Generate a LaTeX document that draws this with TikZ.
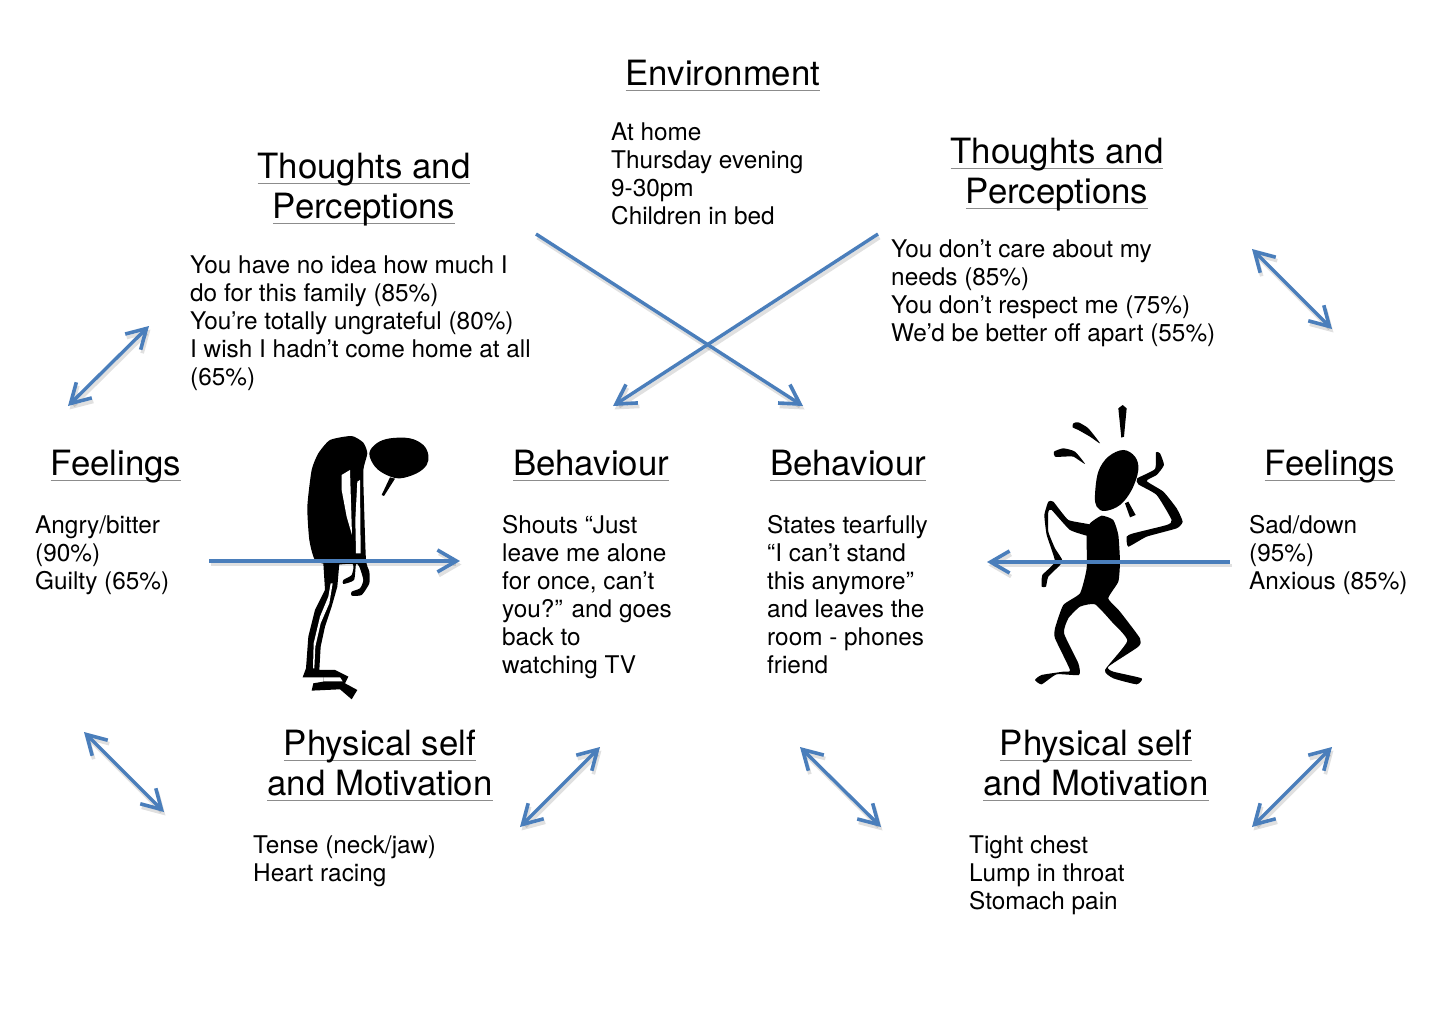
\documentclass[tikz,border=0pt]{standalone}
\usepackage{fontspec}
\setmainfont{TeX Gyre Heros}
\usetikzlibrary{arrows.meta}
\definecolor{arrowblue}{HTML}{4A7EBB}
\definecolor{headrule}{HTML}{8C8C8C}
\newcommand\hdline[1]{\setbox0\hbox{#1}\rlap{\color{headrule}\rule[-5.5pt]{\wd0}{1.3pt}}\box0}
\tikzset{
  bodytext/.style={anchor=north west,inner sep=0pt,align=left,font=\fontsize{24.35}{27.85}\selectfont},
  headtext/.style={anchor=north,inner sep=0pt,align=center,font=\fontsize{34.8}{40}\selectfont},
  barb/.tip={Straight Barb[length=19pt,width=22pt,line width=3.6pt]},
  link/.style={draw=arrowblue,line width=3.4pt},
  both/.style={link,barb-barb},
  fwd/.style={link,-barb},
  shade/.style={draw=black,opacity=.12,line width=3.8pt,transform canvas={xshift=1.5pt,yshift=-3.5pt}},
  ink/.style={fill=black,draw=none}
}
\begin{document}
\begin{tikzpicture}[x=1pt,y=-1pt]
\useasboundingbox (0,0) rectangle (1456,1030);
\fill[white] (0,0) rectangle (1456,1030);

% stooped figure
\begin{scope}[shift={(280,420)},x=.3333pt,y=-.3333pt]
\fill[ink] plot[smooth cycle,tension=.35] coordinates {(150,60)(215,48)(250,68)(262,100)(250,150)(252,250)(258,420)(268,455)(268,490)(245,525)(215,527)(215,515)(240,505)(250,480)(238,440)(228,432)(222,480)(190,492)(190,480)(215,465)(218,432)(150,435)(105,420)(88,360)(82,260)(95,150)(115,100)};
\fill[white] (185,165)--(210,150)--(216,345)--(200,290)--(185,210)--cycle;
\fill[white] (232,185)--(240,180)--(242,400)--(228,400)--(226,300)--cycle;
\fill[ink] (130,430)--(178,430)--(172,500)--(155,560)--(135,620)--(122,680)--(118,750)--(165,750)--(205,770)--(195,790)--(232,810)--(215,838)--(180,808)--(95,812)--(100,790)--(130,785)--(130,772)--(68,772)--(78,745)--(85,650)--(105,570)--(135,510)--cycle;
\fill[white] (152,490)--(158,490)--(148,550)--(122,610)--(106,680)--(103,745)--(99,745)--(101,670)--(120,590)--(145,530)--cycle;
\fill[white] (130,772)--(180,772)--(188,784)--(130,784)--cycle;
\fill[ink] plot[smooth cycle,tension=.6] coordinates {(268,100)(290,70)(330,55)(390,55)(430,75)(445,105)(440,135)(410,160)(360,175)(320,165)(285,140)};
\fill[ink] (330,172)--(345,176)--(312,228)--(305,225)--cycle;
\end{scope}

% agitated figure
\begin{scope}[shift={(980,395)},x=.3333pt,y=-.3333pt]
\fill[ink] (415,40)--(428,30)--(440,40)--(432,125)--(424,128)--cycle;
\fill[ink] plot[smooth cycle,tension=.35] coordinates {(280,85)(295,82)(325,100)(360,145)(330,125)(295,105)(278,97)};
\fill[ink] plot[smooth cycle,tension=.35] coordinates {(222,170)(250,160)(285,170)(315,207)(280,185)(250,185)(225,185)};
\fill[ink] plot[smooth cycle,tension=.6] coordinates {(345,300)(355,230)(385,185)(430,165)(465,185)(475,225)(455,285)(420,330)(375,348)(350,335)};
\fill[ink] (435,325)--(445,320)--(467,360)--(450,367)--cycle;
\fill[ink] plot[smooth cycle,tension=.3] coordinates {(440,425)(460,415)(560,390)(575,375)(530,300)(475,268)(472,250)(525,222)(528,172)(540,175)(552,210)(530,240)(500,258)(550,290)(590,340)(608,380)(590,400)(500,425)(445,455)};
\fill[ink] plot[smooth cycle,tension=.3] coordinates {(330,385)(365,362)(400,375)(415,420)(420,500)(415,560)(385,610)(420,650)(480,730)(475,755)(385,815)(400,830)(485,850)(470,868)(400,850)(375,825)(442,738)(395,680)(345,628)(300,635)(265,670)(252,715)(295,805)(297,840)(230,838)(185,868)(165,855)(185,840)(250,830)(270,825)(225,730)(225,700)(250,630)(300,595)(320,520)(320,420)};
\fill[ink] plot[smooth cycle,tension=.25] coordinates {(335,390)(335,425)(270,405)(215,345)(205,350)(205,410)(225,460)(248,500)(205,545)(198,575)(185,575)(187,540)(225,500)(200,420)(193,360)(205,320)(220,320)(265,375)};
\end{scope}

% headings
\node[headtext] (envh) at (723,60) {\hdline{Environment}};
\node[headtext] (tlh) at (364,153) {\hdline{Thoughts and}\\\hdline{Perceptions}};
\node[headtext] (trh) at (1057,138) {\hdline{Thoughts and}\\\hdline{Perceptions}};
\node[headtext] (flh) at (116,450) {\hdline{Feelings}};
\node[headtext] (blh) at (591,450) {\hdline{Behaviour}};
\node[headtext] (brh) at (848,450) {\hdline{Behaviour}};
\node[headtext] (frh) at (1330,450) {\hdline{Feelings}};
\node[headtext] (plh) at (380,730) {\hdline{Physical self}\\\hdline{and Motivation}};
\node[headtext] (prh) at (1096,730) {\hdline{Physical self}\\\hdline{and Motivation}};

% body text
\node[bodytext] (envt) at (611,122.7) {At home\\Thursday evening\\9-30pm\\Children in bed};
\node[bodytext] (tlt) at (190,255.7) {You have no idea how much I\\do for this family (85\%)\\You’re totally ungrateful (80\%)\\I wish I hadn’t come home at all\\(65\%)};
\node[bodytext] (trt) at (891,239.7) {You don’t care about my\\needs (85\%)\\You don’t respect me (75\%)\\We’d be better off apart (55\%)};
\node[bodytext] (flt) at (35,515.5) {Angry/bitter\\(90\%)\\Guilty (65\%)};
\node[bodytext] (blt) at (502,515.5) {Shouts “Just\\leave me alone\\for once, can’t\\you?” and goes\\back to\\watching TV};
\node[bodytext] (brt) at (767,515.5) {States tearfully\\“I can’t stand\\this anymore”\\and leaves the\\room - phones\\friend};
\node[bodytext] (frt) at (1249,515.5) {Sad/down\\(95\%)\\Anxious (85\%)};
\node[bodytext] (plt) at (253,836) {Tense (neck/jaw)\\Heart racing};
\node[bodytext] (prt) at (969,836) {Tight chest\\Lump in throat\\Stomach pain};

% connector ends
\coordinate (xa1) at (536,234); \coordinate (xa2) at (803,406);
\coordinate (xb1) at (878,234); \coordinate (xb2) at (613,406);
\coordinate (fl1) at (68,406);  \coordinate (fl2) at (149,326);
\coordinate (fr1) at (1252,249);\coordinate (fr2) at (1332,329);
\coordinate (pl1) at (84,732);  \coordinate (pl2) at (164,812);
\coordinate (pb1) at (520,827); \coordinate (pb2) at (600,747);
\coordinate (qb1) at (800,747); \coordinate (qb2) at (881,827);
\coordinate (qr1) at (1252,827);\coordinate (qr2) at (1332,747);
\coordinate (hl1) at (209,561); \coordinate (hl2) at (460,561);
\coordinate (hr1) at (1230,562);\coordinate (hr2) at (987,562);

% soft shadows
\foreach \a/\b/\s in {xa1/xa2/fwd,xb1/xb2/fwd,fl1/fl2/both,fr1/fr2/both,pl1/pl2/both,pb1/pb2/both,qb1/qb2/both,qr1/qr2/both,hl1/hl2/fwd,hr1/hr2/fwd}
  \draw[\s,shade] (\a) -- (\b);

% connectors
\draw[fwd] (xa1) -- (xa2);
\draw[fwd] (xb1) -- (xb2);
\draw[both] (fl1) -- (fl2);
\draw[both] (fr1) -- (fr2);
\draw[both] (pl1) -- (pl2);
\draw[both] (pb1) -- (pb2);
\draw[both] (qb1) -- (qb2);
\draw[both] (qr1) -- (qr2);
\draw[fwd] (hl1) -- (hl2);
\draw[fwd] (hr1) -- (hr2);
\end{tikzpicture}
\end{document}
